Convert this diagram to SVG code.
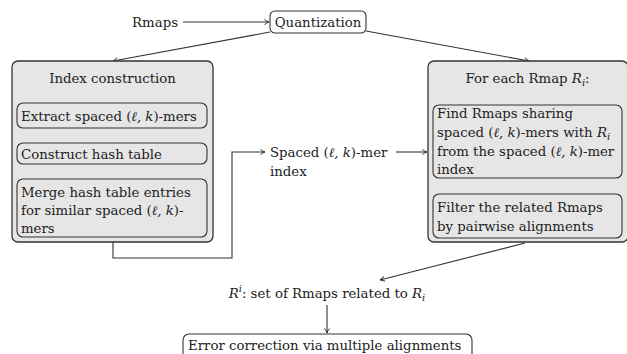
<svg xmlns="http://www.w3.org/2000/svg" width="627" height="354" viewBox="0 0 627 354">
<style>
text{font-family:'DejaVu Serif',serif;font-size:13.3px;fill:#222}
.i{font-style:italic}
.big{fill:#e6e6e6;stroke:#333;stroke-width:1.3}
.in{fill:#e6e6e6;stroke:#333;stroke-width:1.1}
.wb{fill:#fff;stroke:#333;stroke-width:1.1}
.c{fill:none;stroke:#333;stroke-width:1.1}
.m{text-anchor:middle}
</style>
<defs>
<marker id="a" markerWidth="8" markerHeight="8" refX="6" refY="4" orient="auto" markerUnits="userSpaceOnUse">
<path d="M1.5,1.5 Q4,3.5 6,4 Q4,4.5 1.5,6.5" fill="none" stroke="#333" stroke-width="1"/>
</marker>
</defs>
<g id="connectors">
<path class="c" d="M183,22 H269" marker-end="url(#a)"/>
<path class="c" d="M270,32 L113,61" marker-end="url(#a)"/>
<path class="c" d="M366,31 L529,61" marker-end="url(#a)"/>
<path class="c" d="M113,242 V258 H232 V152 H265" marker-end="url(#a)"/>
<path class="c" d="M396,152 H427" marker-end="url(#a)"/>
<path class="c" d="M525,243 L380,280" marker-end="url(#a)"/>
<path class="c" d="M327,305 V333" marker-end="url(#a)"/>
</g>
<g id="rmaps"><text x="178" y="27" text-anchor="end">Rmaps</text></g>
<g id="quantization">
<rect class="wb" x="270" y="11" width="96" height="22" rx="5"/>
<text x="318" y="27" class="m">Quantization</text>
</g>
<g id="index-construction">
<rect class="big" x="12" y="61" width="201" height="181" rx="6"/>
<text x="112.5" y="83" class="m">Index construction</text>
<g id="extract">
<rect class="in" x="17" y="103" width="190" height="25" rx="6"/>
<text x="21" y="121">Extract spaced (<tspan class="i">ℓ, k</tspan>)-mers</text>
</g>
<g id="construct">
<rect class="in" x="17" y="143" width="190" height="21" rx="6"/>
<text x="21" y="159">Construct hash table</text>
</g>
<g id="merge">
<rect class="in" x="17" y="179" width="190" height="58" rx="6"/>
<text x="21" y="197">Merge hash table entries</text>
<text x="21" y="215">for similar spaced (<tspan class="i">ℓ, k</tspan>)-</text>
<text x="21" y="233">mers</text>
</g>
</g>
<g id="spaced-index">
<text x="270" y="157">Spaced (<tspan class="i">ℓ, k</tspan>)-mer</text>
<text x="270" y="176">index</text>
</g>
<g id="for-each">
<rect class="big" x="428" y="61" width="200" height="181" rx="6"/>
<text x="527.5" y="83" class="m">For each Rmap <tspan class="i">R</tspan><tspan class="i" font-size="10" dy="3">i</tspan><tspan dy="-3">:</tspan></text>
<g id="find">
<rect class="in" x="433" y="105" width="189" height="73" rx="6"/>
<text x="437" y="118">Find Rmaps sharing</text>
<text x="437" y="137">spaced (<tspan class="i">ℓ, k</tspan>)-mers with <tspan class="i">R</tspan><tspan class="i" font-size="10" dy="3">i</tspan></text>
<text x="437" y="156">from the spaced (<tspan class="i">ℓ, k</tspan>)-mer</text>
<text x="437" y="174">index</text>
</g>
<g id="filter">
<rect class="in" x="433" y="194" width="189" height="44" rx="6"/>
<text x="437" y="212">Filter the related Rmaps</text>
<text x="437" y="231">by pairwise alignments</text>
</g>
</g>
<g id="ri-set">
<text x="327" y="298" class="m"><tspan class="i">R</tspan><tspan class="i" font-size="10" dy="-6">i</tspan><tspan dy="6">: set of Rmaps related to </tspan><tspan class="i">R</tspan><tspan class="i" font-size="10" dy="3">i</tspan></text>
</g>
<g id="error-correction">
<rect class="wb" x="183" y="334" width="289" height="30" rx="6"/>
<text x="188" y="350">Error correction via multiple alignments</text>
</g>
</svg>
